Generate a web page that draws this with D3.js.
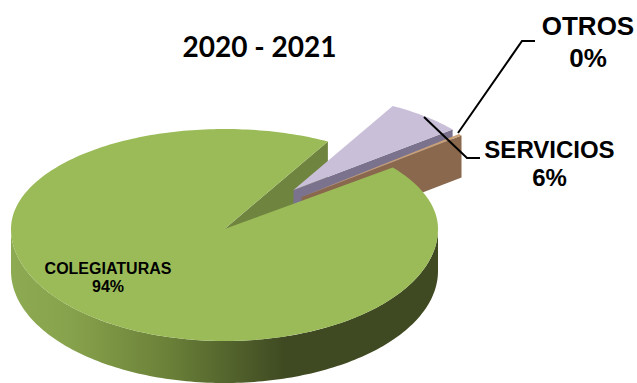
<!DOCTYPE html>
<html>
<head>
<meta charset="utf-8">
<script src="https://cdn.jsdelivr.net/npm/d3@7"></script>
<style>
  html, body { margin: 0; padding: 0; background: #fff; }
  svg { display: block; }
</style>
</head>
<body>
<div id="chart"></div>
<script>
// Chart values
const categories = ['COLEGIATURAS', 'SERVICIOS', 'OTROS'];
const values = [93.6, 6.1, 0.3];
const title = '2020 - 2021';

const width = 637, height = 383;

// Pie geometry (tilted, back half is squashed a bit more than the front)
const cx = 224.5, cy = 229;
const rx = 213.5, ryFront = 112, ryBack = 100;
const depth = 42;

const topColors = ['#9bbb59', '#c9bfd9', '#c9a077'];
const wallColors = ['#6f843f', '#7b738e', '#89684d'];
// rot: small turn of the pulled out slice, in degrees
const explode = [
    {dx: 0, dy: 0, r: 1, rot: 0},
    {dx: 69, dy: -39, r: 0.96, rot: 0},
    {dx: 77, dy: -32, r: 0.97, rot: -1.4}
];

const svg = d3.select('#chart').append('svg')
    .attr('width', width)
    .attr('height', height);

// Side wall shading
const grad = svg.append('defs').append('linearGradient')
    .attr('id', 'wall')
    .attr('gradientUnits', 'userSpaceOnUse')
    .attr('x1', cx - rx).attr('x2', cx + rx)
    .attr('y1', 0).attr('y2', 0);
grad.append('stop').attr('offset', 0).attr('stop-color', '#8dab52');
grad.append('stop').attr('offset', 0.14).attr('stop-color', '#87a24c');
grad.append('stop').attr('offset', 0.37).attr('stop-color', '#6a8038');
grad.append('stop').attr('offset', 0.64).attr('stop-color', '#3f4a22');
grad.append('stop').attr('offset', 1).attr('stop-color', '#3f4a22');

const pie = d3.pie().sort(null)
    .startAngle(52 * Math.PI / 180)
    .endAngle((52 + 360) * Math.PI / 180);
const arcs = pie(values);

// Angle is d3's: 0 at the top, clockwise
function project(angle, e, k = 1) {
    const a = angle + e.rot * Math.PI / 180;
    const s = Math.sin(a), c = -Math.cos(a);
    return [
        cx + e.dx + rx * e.r * k * s,
        cy + e.dy + (c > 0 ? ryFront : ryBack) * e.r * k * c
    ];
}

function arcPoints(a0, a1, e) {
    const n = Math.max(2, Math.ceil(Math.abs(a1 - a0) / 0.02));
    return d3.range(n + 1).map(i => project(a0 + (a1 - a0) * i / n, e));
}

const line = d3.line();
const down = p => [p[0], p[1] + depth];

function drawPoly(points, fill) {
    svg.append('path')
        .attr('d', line(points) + 'Z')
        .attr('fill', fill);
}

function drawTop(i) {
    const e = explode[i];
    drawPoly([project(0, e, 0)].concat(arcPoints(arcs[i].startAngle, arcs[i].endAngle, e)), topColors[i]);
}

// The cut wall running from the apex to the given angle
function drawCut(i, angle) {
    const e = explode[i];
    const a = project(0, e, 0), b = project(angle, e);
    drawPoly([a, b, down(b), down(a)], wallColors[i]);
}

// Back to front: notch wall, lilac slice, brown slice, main body
drawCut(0, arcs[0].endAngle);

drawCut(1, arcs[1].endAngle);
drawTop(1);

drawCut(2, arcs[2].endAngle);
drawTop(2);

// Outer wall of the main slice, front half only
const front = arcPoints(Math.PI / 2, 3 * Math.PI / 2, explode[0]);
drawPoly(front.concat(front.map(down).reverse()), 'url(#wall)');
drawTop(0);

// Texts
svg.append('text')
    .attr('x', 259.5).attr('y', 57)
    .attr('text-anchor', 'middle')
    .attr('font-family', 'Lato, Carlito, sans-serif')
    .attr('font-weight', 700)
    .attr('font-size', 28)
    .attr('fill', '#000')
    .text(title);

const labels = [
    {i: 0, x: 108, y: 274, dy: 18, size: 16},
    {i: 1, x: 549.5, y: 158, dy: 28, size: 24},
    {i: 2, x: 588, y: 35, dy: 32, size: 26}
];

labels.forEach(l => {
    const t = svg.append('text')
        .attr('text-anchor', 'middle')
        .attr('font-family', '"Liberation Sans", Arial, sans-serif')
        .attr('font-weight', 700)
        .attr('font-size', l.size)
        .attr('fill', '#000');
    t.append('tspan').attr('x', l.x).attr('y', l.y).text(categories[l.i]);
    t.append('tspan').attr('x', l.x).attr('y', l.y + l.dy).text(Math.round(values[l.i]) + '%');
});

// Leader lines
const leaders = [
    [[424, 117], [467, 158], [480, 158]],
    [[458, 133], [522, 41], [535, 41]]
];
svg.selectAll('path.leader')
    .data(leaders)
    .enter()
    .append('path')
    .attr('class', 'leader')
    .attr('d', d => line(d))
    .attr('fill', 'none')
    .attr('stroke', '#000')
    .attr('stroke-width', 2);
</script>
</body>
</html>
